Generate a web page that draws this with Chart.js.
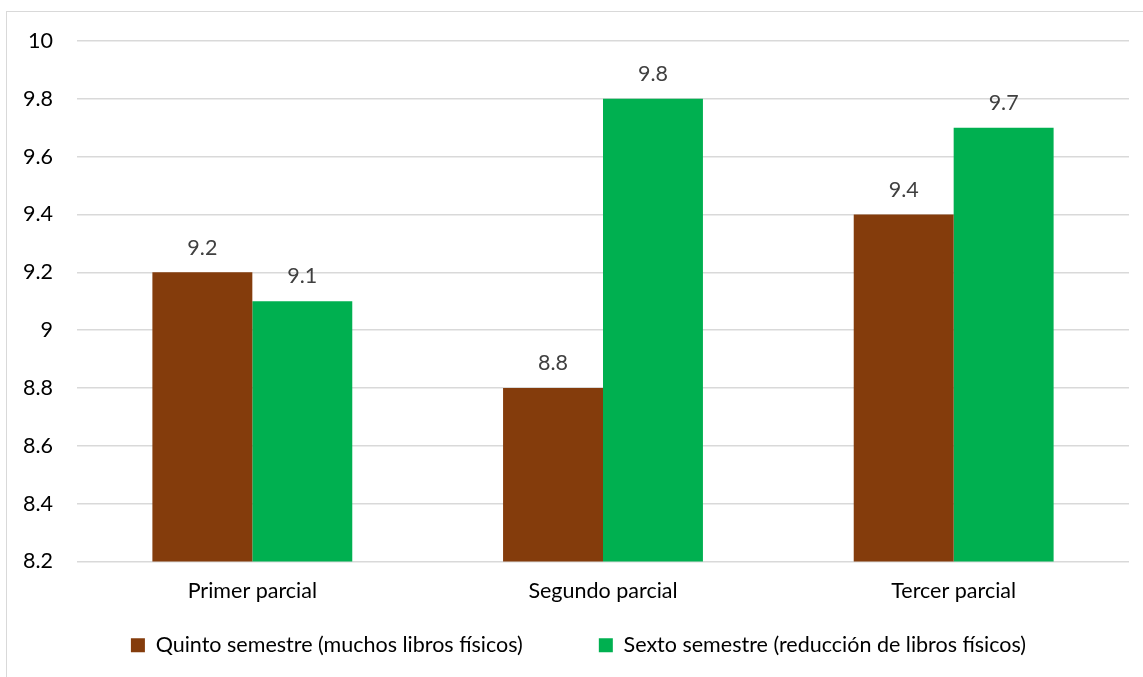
<!DOCTYPE html>
<html>
<head>
<meta charset="utf-8">
<script src="https://cdn.jsdelivr.net/npm/chart.js@4"></script>
<style>
html,body{margin:0;padding:0;background:#fff;}
#wrap{position:relative;width:1143px;height:677px;overflow:hidden;}
#frame{position:absolute;left:6px;top:11px;width:1200px;height:700px;border:1px solid #d9d9d9;box-sizing:border-box;}
canvas{position:absolute;left:0;top:0;}
</style>
</head>
<body>
<div id="wrap">
<div id="frame"></div>
<canvas id="c" width="1143" height="677"></canvas>
</div>
<script>
const categories = ["Primer parcial", "Segundo parcial", "Tercer parcial"];
const seriesNames = ["Quinto semestre (muchos libros físicos)", "Sexto semestre (reducción de libros físicos)"];
const quinto = [9.2, 8.8, 9.4];
const sexto = [9.1, 9.8, 9.7];
const yMin = 8.2, yMax = 10, yStep = 0.2;

const FONT = "Lato, 'Open Sans', sans-serif";
const FS = 21.5;

const labelPlugin = {
  id: 'barLabels',
  afterLayout(chart) {
    if (chart.legend) { chart.legend.left += 14; chart.legend.right += 14; }
  },
  afterDatasetsDraw(chart) {
    const ctx = chart.ctx;
    ctx.save();
    ctx.font = FS + "px " + FONT;
    ctx.fillStyle = "#404040";
    ctx.textAlign = "center";
    ctx.textBaseline = "bottom";
    chart.data.datasets.forEach((ds, i) => {
      const meta = chart.getDatasetMeta(i);
      meta.data.forEach((bar, j) => {
        ctx.fillText(String(ds.data[j]), bar.x, bar.y - 14);
      });
    });
    ctx.restore();
  }
};

new Chart(document.getElementById('c'), {
  type: 'bar',
  data: {
    labels: categories,
    datasets: [
      { label: seriesNames[0], data: quinto, backgroundColor: '#843C0C' },
      { label: seriesNames[1], data: sexto, backgroundColor: '#00B050' }
    ]
  },
  options: {
    responsive: false,
    animation: false,
    devicePixelRatio: 1,
    layout: { padding: { left: 0, right: 14, top: 41, bottom: 11 } },
    datasets: { bar: { barPercentage: 1.0, categoryPercentage: 0.57 } },
    plugins: {
      legend: {
        position: 'bottom',
        labels: {
          font: { size: FS, family: FONT },
          color: '#000',
          boxWidth: 14,
          boxHeight: 14,
          padding: 10,
          generateLabels(chart) {
            const items = Chart.defaults.plugins.legend.labels.generateLabels(chart);
            items[0].text = items[0].text + '\u00a0'.repeat(12);
            return items;
          }
        }
      },
      tooltip: { enabled: false }
    },
    scales: {
      x: {
        grid: { display: false },
        border: { display: false },
        ticks: { font: { size: FS, family: FONT }, color: '#000', padding: 9 },
        afterFit(s) { s.height = 63; }
      },
      y: {
        min: yMin, max: yMax,
        grid: { color: '#d9d9d9', lineWidth: 1.5, drawTicks: false },
        border: { display: false },
        ticks: {
          stepSize: yStep,
          font: { size: FS, family: FONT },
          color: '#000',
          padding: 24,
          callback: v => String(Number(v.toFixed(1)))
        },
        afterFit(s) { s.width = 77; }
      }
    }
  },
  plugins: [labelPlugin]
});
</script>
</body>
</html>
